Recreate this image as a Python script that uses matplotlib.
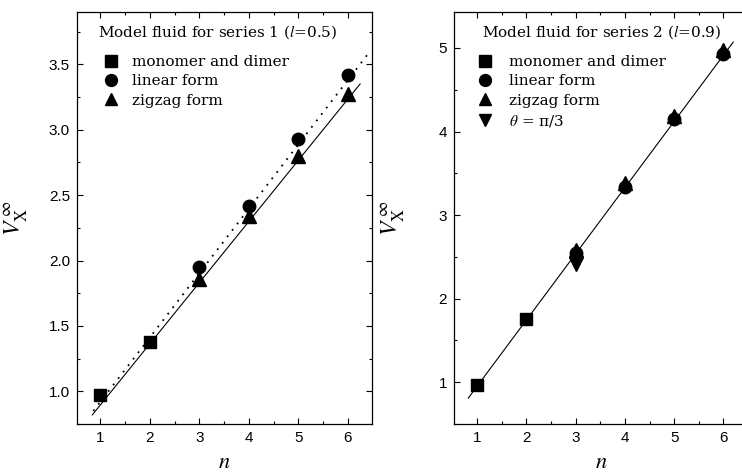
import matplotlib
matplotlib.use("Agg")
import matplotlib.pyplot as plt
from matplotlib.ticker import MultipleLocator

plt.rcParams['mathtext.fontset'] = 'stix'
plt.rcParams['font.family'] = ['Liberation Sans', 'DejaVu Sans']

# series 1 (l=0.5)
n_md = [1, 2]
n_chain = [3, 4, 5, 6]
md_1 = [0.97, 1.38]
linear_1 = [1.95, 2.42, 2.93, 3.42]
zigzag_1 = [1.86, 2.34, 2.80, 3.27]
# fitted lines (end points)
fit1_x = [0.84, 6.25]
fit1_solid = [0.82, 3.35]
fit1_dot_x = [0.86, 6.41]
fit1_dot = [0.85, 3.58]

# series 2 (l=0.9)
md_2 = [0.97, 1.76]
linear_2 = [2.55, 3.34, 4.15, 4.93]
zigzag_2 = [2.58, 3.38, 4.18, 4.97]
n_theta = [3]
theta_2 = [2.42]
fit2_x = [0.82, 6.2]
fit2_solid = [0.81, 5.07]

labels_1 = ["monomer and dimer", "linear form", "zigzag form"]
labels_2 = ["monomer and dimer", "linear form", "zigzag form", r"$\theta$ = π/3"]
title_1 = r"Model fluid for series 1 ($l$=0.5)"
title_2 = r"Model fluid for series 2 ($l$=0.9)"

serif = dict(family='DejaVu Serif', size=11.0)


def style_axes(ax):
    ax.tick_params(which='both', direction='in', top=True, right=True,
                   labelsize=11, width=0.8)
    ax.tick_params(which='major', length=4, pad=5)
    ax.tick_params(which='minor', length=2.5)
    for s in ax.spines.values():
        s.set_linewidth(0.9)
    ax.xaxis.set_major_locator(MultipleLocator(1))
    ax.xaxis.set_minor_locator(MultipleLocator(0.5))
    ax.set_xlabel("$n$", fontsize=16, va='center')
    ax.xaxis.set_label_coords(0.5, -0.093)
    ax.set_ylabel(r"$V_{\mathrm{X}}^{\,\infty}$", fontsize=17)
    ax.yaxis.set_label_coords(-0.16, 0.5)


fig = plt.figure(figsize=(7.42, 4.75), dpi=100)
ax1 = fig.add_axes([77 / 742, 1 - 424 / 475, 295 / 742, 412 / 475])
ax2 = fig.add_axes([454 / 742, 1 - 424 / 475, 294 / 742, 412 / 475])

# left panel
ax1.plot(fit1_x, fit1_solid, color='black', lw=0.8)
ax1.plot(fit1_dot_x, fit1_dot, color='black', lw=1.3, linestyle=(0, (1, 3.5)))
h1 = ax1.plot(n_md, md_1, 'ks', ms=8.5, linestyle='none')[0]
h2 = ax1.plot(n_chain, linear_1, 'ko', ms=9, linestyle='none')[0]
h3 = ax1.plot(n_chain, zigzag_1, 'k^', ms=9.5, linestyle='none')[0]
ax1.set_xlim(0.53, 6.49)
ax1.set_ylim(0.75, 3.9)
ax1.yaxis.set_major_locator(MultipleLocator(0.5))
ax1.yaxis.set_minor_locator(MultipleLocator(0.25))
ax1.yaxis.set_major_formatter('{x:.1f}')
style_axes(ax1)
ax1.text(0.071, 0.951, title_1, transform=ax1.transAxes, va='center',
         ha='left', fontdict=serif)
ax1.legend([h1, h2, h3], labels_1, loc='upper left', bbox_to_anchor=(0.071, 0.895),
           frameon=False, prop=serif, borderpad=0, borderaxespad=0,
           handlelength=1.7, handletextpad=0.55, labelspacing=0.34,
           markerscale=0.95)

# right panel
ax2.plot(fit2_x, fit2_solid, color='black', lw=0.8)
g1 = ax2.plot(n_md, md_2, 'ks', ms=8.5, linestyle='none')[0]
g2 = ax2.plot(n_chain, linear_2, 'ko', ms=9, linestyle='none')[0]
g3 = ax2.plot(n_chain, zigzag_2, 'k^', ms=9.5, linestyle='none')[0]
g4 = ax2.plot(n_theta, theta_2, 'kv', ms=9.5, linestyle='none')[0]
ax2.set_xlim(0.53, 6.5)
ax2.set_ylim(0.5, 5.43)
ax2.yaxis.set_major_locator(MultipleLocator(1))
ax2.yaxis.set_minor_locator(MultipleLocator(0.5))
style_axes(ax2)
ax2.text(0.095, 0.951, title_2, transform=ax2.transAxes, va='center',
         ha='left', fontdict=serif)
ax2.legend([g1, g2, g3, g4], labels_2, loc='upper left', bbox_to_anchor=(0.092, 0.895),
           frameon=False, prop=serif, borderpad=0, borderaxespad=0,
           handlelength=0.5, handletextpad=1.3, labelspacing=0.34,
           markerscale=0.95)

fig.savefig("out.png", dpi=100)
